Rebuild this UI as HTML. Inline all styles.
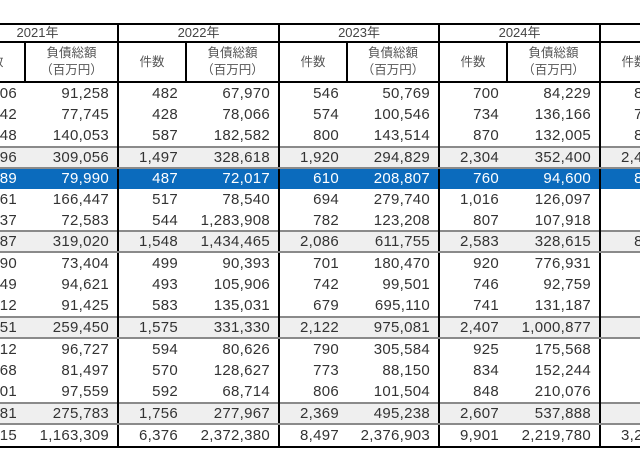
<!DOCTYPE html>
<html><head><meta charset="utf-8"><style>
html,body{margin:0;padding:0;background:#fff;width:640px;height:456px;overflow:hidden;position:relative}
#w{position:absolute;left:0;top:0;width:640px;height:456px;overflow:hidden}
table{position:absolute;left:-44px;top:23px;width:805px;border-collapse:collapse;table-layout:fixed;font-family:"Liberation Sans","Noto Sans CJK JP",sans-serif;color:#333}
td{padding:0 8px 0 0;text-align:right;font-size:15px;letter-spacing:0.3px;height:20.9px;line-height:19px;white-space:nowrap;overflow:hidden}
td.c{border-left:2px solid #000}
tr.h1 td{border:2px solid #000;text-align:center;font-size:13px;color:#444;height:16px;line-height:16px;padding:0;letter-spacing:0}
tr.h2 td{border:2px solid #000;text-align:center;font-size:12.5px;color:#555;height:38px;line-height:17px;padding:0;letter-spacing:0}
tr.g td{background:#efefef;border-top:2px solid #8a8a8a;border-bottom:2px solid #8a8a8a;height:18.6px}
tr.b td{background:#0b6bbd;color:#fff;height:20px}
tr.t td{border-bottom:2px solid #000}
</style></head><body><div id="w">
<table>
<colgroup>
<col style="width:68px"><col style="width:93px"><col style="width:68px"><col style="width:93px"><col style="width:68px"><col style="width:92px"><col style="width:68px"><col style="width:93px"><col style="width:68px"><col style="width:94px">
</colgroup>
<tr class="h1"><td colspan="2">2021年</td><td colspan="2">2022年</td><td colspan="2">2023年</td><td colspan="2">2024年</td><td colspan="2">2025年</td></tr>
<tr class="h2"><td>件数</td><td>負債総額<br>（百万円）</td><td>件数</td><td>負債総額<br>（百万円）</td><td>件数</td><td>負債総額<br>（百万円）</td><td>件数</td><td>負債総額<br>（百万円）</td><td>件数</td><td>負債総額<br>（百万円）</td></tr>
<tr><td class="c">606</td><td>91,258</td><td class="c">482</td><td>67,970</td><td class="c">546</td><td>50,769</td><td class="c">700</td><td>84,229</td><td class="c">812</td><td>90,000</td></tr>
<tr><td class="c">642</td><td>77,745</td><td class="c">428</td><td>78,066</td><td class="c">574</td><td>100,546</td><td class="c">734</td><td>136,166</td><td class="c">762</td><td>90,000</td></tr>
<tr><td class="c">648</td><td>140,053</td><td class="c">587</td><td>182,582</td><td class="c">800</td><td>143,514</td><td class="c">870</td><td>132,005</td><td class="c">851</td><td>90,000</td></tr>
<tr class="g"><td class="c">1,896</td><td>309,056</td><td class="c">1,497</td><td>328,618</td><td class="c">1,920</td><td>294,829</td><td class="c">2,304</td><td>352,400</td><td class="c">2,425</td><td>300,000</td></tr>
<tr class="b"><td class="c">589</td><td>79,990</td><td class="c">487</td><td>72,017</td><td class="c">610</td><td>208,807</td><td class="c">760</td><td>94,600</td><td class="c">821</td><td>90,000</td></tr>
<tr><td class="c">561</td><td>166,447</td><td class="c">517</td><td>78,540</td><td class="c">694</td><td>279,740</td><td class="c">1,016</td><td>126,097</td><td class="c"></td><td></td></tr>
<tr><td class="c">537</td><td>72,583</td><td class="c">544</td><td>1,283,908</td><td class="c">782</td><td>123,208</td><td class="c">807</td><td>107,918</td><td class="c"></td><td></td></tr>
<tr class="g"><td class="c">1,687</td><td>319,020</td><td class="c">1,548</td><td>1,434,465</td><td class="c">2,086</td><td>611,755</td><td class="c">2,583</td><td>328,615</td><td class="c">821</td><td>90,000</td></tr>
<tr><td class="c">590</td><td>73,404</td><td class="c">499</td><td>90,393</td><td class="c">701</td><td>180,470</td><td class="c">920</td><td>776,931</td><td class="c"></td><td></td></tr>
<tr><td class="c">649</td><td>94,621</td><td class="c">493</td><td>105,906</td><td class="c">742</td><td>99,501</td><td class="c">746</td><td>92,759</td><td class="c"></td><td></td></tr>
<tr><td class="c">612</td><td>91,425</td><td class="c">583</td><td>135,031</td><td class="c">679</td><td>695,110</td><td class="c">741</td><td>131,187</td><td class="c"></td><td></td></tr>
<tr class="g"><td class="c">1,851</td><td>259,450</td><td class="c">1,575</td><td>331,330</td><td class="c">2,122</td><td>975,081</td><td class="c">2,407</td><td>1,000,877</td><td class="c"></td><td></td></tr>
<tr><td class="c">612</td><td>96,727</td><td class="c">594</td><td>80,626</td><td class="c">790</td><td>305,584</td><td class="c">925</td><td>175,568</td><td class="c"></td><td></td></tr>
<tr><td class="c">568</td><td>81,497</td><td class="c">570</td><td>128,627</td><td class="c">773</td><td>88,150</td><td class="c">834</td><td>152,244</td><td class="c"></td><td></td></tr>
<tr><td class="c">601</td><td>97,559</td><td class="c">592</td><td>68,714</td><td class="c">806</td><td>101,504</td><td class="c">848</td><td>210,076</td><td class="c"></td><td></td></tr>
<tr class="g"><td class="c">1,781</td><td>275,783</td><td class="c">1,756</td><td>277,967</td><td class="c">2,369</td><td>495,238</td><td class="c">2,607</td><td>537,888</td><td class="c"></td><td></td></tr>
<tr class="t"><td class="c">7,015</td><td>1,163,309</td><td class="c">6,376</td><td>2,372,380</td><td class="c">8,497</td><td>2,376,903</td><td class="c">9,901</td><td>2,219,780</td><td class="c">3,246</td><td>390,000</td></tr>
</table>
</div></body></html>
